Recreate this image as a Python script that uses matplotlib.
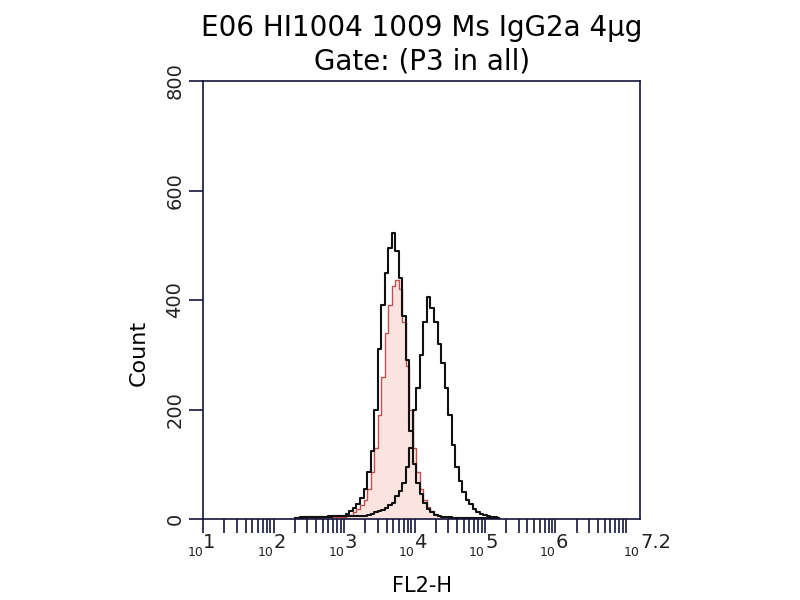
import matplotlib
matplotlib.use("Agg")
import matplotlib.pyplot as plt
import matplotlib.transforms as mtransforms
from matplotlib.ticker import FixedLocator, NullFormatter

# channel centres in log10 units, bin width 0.05 decade
log_ch = [2.30, 2.35, 2.40, 2.45, 2.50, 2.55, 2.60, 2.65, 2.70, 2.75,
          2.80, 2.85, 2.90, 2.95, 3.00, 3.05, 3.10, 3.15, 3.20, 3.25,
          3.30, 3.35, 3.40, 3.45, 3.50, 3.55, 3.60, 3.65, 3.70, 3.75,
          3.80, 3.85, 3.90, 3.95, 4.00, 4.05, 4.10, 4.15, 4.20, 4.25,
          4.30, 4.35, 4.40, 4.45, 4.50, 4.55, 4.60, 4.65, 4.70, 4.75,
          4.80, 4.85, 4.90, 4.95, 5.00, 5.05, 5.10, 5.15, 5.20]

# isotype (black, first peak)
iso_black = [2, 2, 3, 3, 3, 3, 4, 4, 4, 4,
             5, 5, 5, 6, 6, 9, 14, 20, 28, 38,
             55, 85, 125, 200, 310, 390, 450, 495, 522, 490,
             440, 370, 290, 160, 100, 65, 45, 30, 18, 12,
             8, 5, 4, 3, 3, 2, 2, 2, 2, 2,
             1, 1, 1, 1, 1, 1, 1, 1, 1]

# control (red, filled)
ctrl_red = [1, 1, 1, 2, 2, 2, 2, 2, 3, 3,
            3, 3, 4, 4, 4, 6, 8, 12, 18, 25,
            35, 55, 85, 130, 190, 260, 340, 390, 425, 436,
            420, 360, 280, 200, 130, 85, 55, 35, 22, 14,
            9, 6, 4, 3, 2, 2, 1, 1, 1, 1,
            1, 1, 1, 1, 1, 1, 1, 1, 1]

# stained sample (black, second peak)
sample_black = [2, 2, 2, 3, 3, 3, 3, 4, 4, 4,
                4, 5, 5, 5, 5, 5, 6, 6, 6, 6,
                6, 8, 10, 12, 14, 17, 20, 25, 30, 42,
                52, 65, 95, 130, 200, 240, 300, 360, 405, 385,
                360, 320, 285, 240, 190, 135, 95, 70, 50, 35,
                27, 18, 12, 9, 7, 5, 4, 3, 2]

y_ticks = [0, 200, 400, 600, 800]
decades = [1, 2, 3, 4, 5, 6, 7.2]
exp_labels = ["1", "2", "3", "4", "5", "6", "7.2"]
x_max = 10 ** 7.2

ink = "#14143c"

fig = plt.figure(figsize=(8, 6), dpi=100)
ax = fig.add_axes([0.254, 0.135, 0.546, 0.73])

xs = [10 ** v for v in log_ch]
ax.fill_between(xs, ctrl_red, step="mid", color="#fbe4e0", lw=0)
ax.step(xs, ctrl_red, where="mid", color="#c05050", lw=1.0)
ax.step(xs, iso_black, where="mid", color="#101010", lw=1.5)
ax.step(xs, sample_black, where="mid", color="#101010", lw=1.5)

ax.set_xscale("log")
ax.set_xlim(10, x_max)
ax.set_ylim(0, 800)

minor = [m * 10 ** d for d in range(1, 8) for m in range(1, 10) if m * 10 ** d <= x_max]
ax.xaxis.set_major_locator(FixedLocator([]))
ax.xaxis.set_minor_locator(FixedLocator(minor))
ax.xaxis.set_minor_formatter(NullFormatter())

# tick labels drawn as a small "10" followed by a larger exponent
trans = mtransforms.blended_transform_factory(ax.transData, ax.transAxes)
for d, e in zip(decades, exp_labels):
    xv = 10 ** d
    ax.text(xv, 0, "10", transform=trans + mtransforms.ScaledTranslation(0, -24 / 72, fig.dpi_scale_trans),
            ha="right", va="center", fontsize=9, color="#222222")
    ax.text(xv, 0, e, transform=trans + mtransforms.ScaledTranslation(0, -17 / 72, fig.dpi_scale_trans),
            ha="left", va="center", fontsize=14, color="#222222")

ax.set_yticks(y_ticks)
ax.set_yticklabels([str(v) for v in y_ticks], rotation=90, va="center", fontsize=14)

ax.tick_params(axis="both", which="both", direction="out", length=10, width=1.2, color=ink, labelcolor="#222222")
for s in ax.spines.values():
    s.set_color(ink)
    s.set_linewidth(1.2)

ax.set_ylabel("Count", fontsize=16)
ax.yaxis.set_label_coords(-0.125, 0.38)
ax.set_xlabel("FL2-H", fontsize=15, labelpad=28)
ax.set_title("E06 HI1004 1009 Ms IgG2a 4µg\nGate: (P3 in all)", fontsize=20, linespacing=1.25, pad=8)

fig.savefig("out.png", dpi=100)
